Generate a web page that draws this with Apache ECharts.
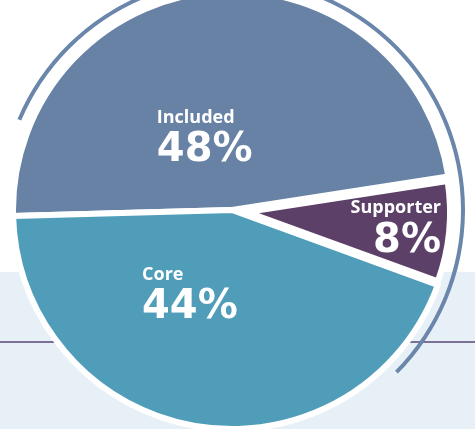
<!DOCTYPE html>
<html>
<head>
<meta charset="utf-8">
<script src="https://cdn.jsdelivr.net/npm/echarts@6/dist/echarts.min.js"></script>
<style>
  html, body { margin: 0; padding: 0; background: #fff; }
  #chart { width: 475px; height: 429px; }
</style>
</head>
<body>
<div id="chart"></div>
<script>
// pie data
const categories = ['Included', 'Supporter', 'Core'];
const shares = [48, 8, 44];
const sliceColors = ['#6882a6', '#5c4068', '#509dba'];
// outer arc covers Included + Supporter
const arcParts = [shares[0] + shares[1], shares[2]];

const chart = echarts.init(document.getElementById('chart'));

const center = [232, 210];
const pulled = 'Supporter';

// label placement per slice
const labelCfg = [
  { align: 'left', dx: -65, dy: 42 },
  { align: 'right', dx: 90, dy: 8 },
  { align: 'left', dx: -72, dy: -24 }
];

function sliceData(showPulled) {
  return categories.map((name, i) => {
    const visible = (name === pulled) === showPulled;
    return {
      name: name,
      value: shares[i],
      itemStyle: visible
        ? { color: sliceColors[i], borderColor: '#fff', borderWidth: 6 }
        : { color: 'rgba(0,0,0,0)', borderWidth: 0 },
      label: { show: visible }
    };
  });
}

const labelStyle = {
  position: 'inside',
  formatter: '{n|{b}}\n{p|{c}%}',
  rich: {
    n: { color: '#fff', fontSize: 18, fontWeight: 'bold', fontFamily: 'Open Sans', lineHeight: 22 },
    p: { color: '#fff', fontSize: 40, fontWeight: 'bold', fontFamily: 'DejaVu Sans', lineHeight: 44 }
  }
};

function layout(params) {
  const c = labelCfg[params.dataIndex];
  return { dx: c.dx, dy: c.dy, align: c.align };
}

chart.setOption({
  backgroundColor: '#ffffff',
  animation: false,
  graphic: [
    { type: 'rect', z: -10, shape: { x: 0, y: 272, width: 475, height: 157 }, style: { fill: '#e8f0f7' } },
    { type: 'line', z: -9, shape: { x1: 0, y1: 342, x2: 475, y2: 342 }, style: { stroke: '#5a4677', lineWidth: 1.5 } }
  ],
  series: [
    {
      type: 'pie',
      center: center,
      radius: [229, 233],
      startAngle: 157,
      clockwise: true,
      silent: true,
      label: { show: false },
      labelLine: { show: false },
      data: arcParts.map((v, i) => ({
        value: v,
        itemStyle: { color: i === 0 ? '#6a86ab' : 'rgba(0,0,0,0)' }
      }))
    },
    {
      type: 'pie',
      z: 2,
      center: center,
      radius: 219,
      startAngle: 181.6,
      clockwise: true,
      label: labelStyle,
      labelLine: { show: false },
      labelLayout: layout,
      data: sliceData(false)
    },
    {
      type: 'pie',
      z: 3,
      center: [center[0] + 15, center[1] + 2],
      radius: 203,
      startAngle: 181.6,
      clockwise: true,
      label: labelStyle,
      labelLine: { show: false },
      labelLayout: layout,
      data: sliceData(true)
    }
  ]
});
</script>
</body>
</html>
